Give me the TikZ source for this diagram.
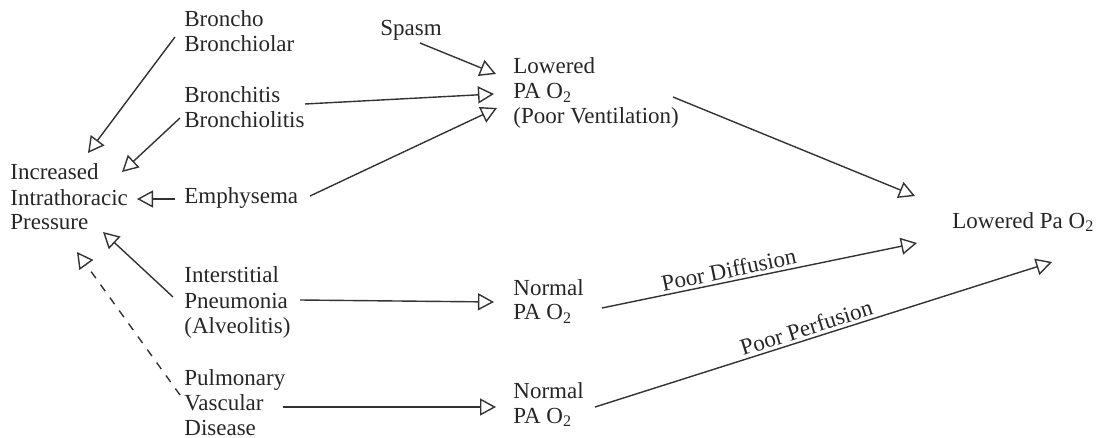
\documentclass[tikz,border=0pt]{standalone}
\usepackage{fontspec}
\setmainfont{Liberation Serif}
\usetikzlibrary{arrows.meta, calc}

\begin{document}
\begin{tikzpicture}[x=0.5pt, y=-0.5pt,
	txt/.style={anchor=base west, inner sep=0pt, align=left, text=black!85,
		font=\fontsize{11.5}{12.5}\selectfont},
	arr/.style={draw=black!80, line width=0.7pt,
		-{Triangle[open, length=8pt, width=8.5pt]}},
	lbl/.style={sloped, above, inner sep=1.5pt, text=black!85,
		font=\fontsize{11.5}{12.5}\selectfont}]
	\useasboundingbox (0,0) rectangle (1097,438);
	% causes (placed at the baseline of their last line)
	\node [txt] (bb) at (184,52) {Broncho\\Bronchiolar};
	\node [txt] (spasm) at (380,36) {Spasm};
	\node [txt] (bron) at (184,128) {Bronchitis\\Bronchiolitis};
	\node [txt] (emph) at (184,204) {Emphysema};
	\node [txt] (inter) at (184,333) {Interstitial\\Pneumonia\\(Alveolitis)};
	\node [txt] (pulm) at (184,435) {Pulmonary\\Vascular\\Disease};
	% effects
	\node [txt] (itp) at (10,230) {Increased\\Intrathoracic\\Pressure};
	\node [txt] (lowv) at (513,124) {Lowered\\PA O\textsubscript{2}\\(Poor Ventilation)};
	\node [txt] (norm1) at (513,320) {Normal\\PA O\textsubscript{2}};
	\node [txt] (norm2) at (513,423) {Normal\\PA O\textsubscript{2}};
	\node [txt] (lowpa) at (952,228) {Lowered Pa O\textsubscript{2}};
	% into increased intrathoracic pressure
	\draw [arr] ([shift={(-9,-15)}]bb.base west) -- ([shift={(78,-77)}]itp.base west);
	\draw [arr] ([shift={(-4,-10)}]bron.base west) -- ([shift={(112,-58)}]itp.base west);
	\draw [arr] ([shift={(-9,-5)}]emph.base west) -- ([shift={(127,-31)}]itp.base west);
	\draw [arr] ([shift={(-11,-36)}]inter.base west) -- ([shift={(93,2)}]itp.base west);
	\draw [arr, dash pattern=on 4pt off 4pt] ([shift={(-4,-40)}]pulm.base west) -- ([shift={(67,22)}]itp.base west);
	% into lowered PA O2
	\draw [arr] ([shift={(40,7)}]spasm.base west) -- ([shift={(-17,-50)}]lowv.base west);
	\draw [arr] ([shift={(121,-24)}]bron.base west) -- ([shift={(-19,-30)}]lowv.base west);
	\draw [arr] ([shift={(126,-8)}]emph.base west) -- ([shift={(-16,-16)}]lowv.base west);
	% normal PA O2
	\draw [arr] ([shift={(116,-33)}]inter.base west) -- ([shift={(-19,-18)}]norm1.base west);
	\draw [arr] ([shift={(99,-28)}]pulm.base west) -- ([shift={(-17,-16)}]norm2.base west);
	% into lowered Pa O2
	\draw [arr] ([shift={(160,-27)}]lowv.base west) -- ([shift={(-37,-32)}]lowpa.base west);
	\draw [arr] ([shift={(89,-12)}]norm1.base west) -- ([shift={(-35,15)}]lowpa.base west)
		node [lbl, pos=.41] {Poor Diffusion};
	\draw [arr] ([shift={(82,-16)}]norm2.base west) -- ([shift={(100,34)}]lowpa.base west)
		node [lbl, pos=.47] {Poor Perfusion};
\end{tikzpicture}
\end{document}
